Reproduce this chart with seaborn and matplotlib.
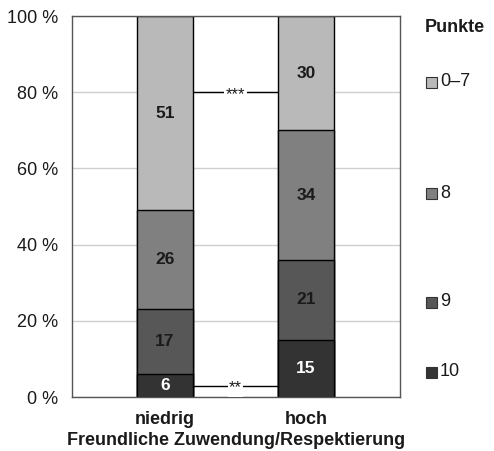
import seaborn as sns
import matplotlib.pyplot as plt
import matplotlib.patches as mpatches
import numpy as np
import pandas as pd

groups = ['niedrig', 'hoch']
punkte = ['10', '9', '8', '0–7']          # bottom to top
share_10 = [6, 15]
share_9 = [17, 21]
share_8 = [26, 34]
share_0_7 = [51, 30]
colors = ['#333333', '#575757', '#808080', '#b9b9b9']
label_colors = ['white', '#1a1a1a', '#1a1a1a', '#1a1a1a']
y_ticks = [0, 20, 40, 60, 80, 100]
sig_levels = [80, 3]
sig_marks = ['***', '**']

sns.set_theme(style='white')
plt.rcParams['font.family'] = ['Liberation Sans', 'DejaVu Sans']

layers = [share_10, share_9, share_8, share_0_7]
cum = np.cumsum(np.array(layers), axis=0)

fig = plt.figure(figsize=(4.94, 4.51), dpi=100)
ax = fig.add_axes([0.1457, 0.1197, 0.664, 0.8448])

# draw cumulative bars from the top layer down so they stack
for i in range(len(layers) - 1, -1, -1):
    df = pd.DataFrame({'gruppe': groups, 'wert': cum[i]})
    sns.barplot(data=df, x='gruppe', y='wert', color=colors[i], width=0.4,
                edgecolor='black', linewidth=1.0, saturation=1, ax=ax, zorder=2)

for i, layer in enumerate(layers):
    for j, v in enumerate(layer):
        ax.text(j, cum[i][j] - v / 2, str(v), ha='center', va='center',
                fontsize=12.5, fontweight='bold', color=label_colors[i], zorder=4)

# significance connectors
for lvl, mark in zip(sig_levels, sig_marks):
    ax.plot([0.2, 0.8], [lvl, lvl], color='black', lw=1.0, zorder=3)
    ax.text(0.5, lvl - 0.6, mark, ha='center', va='center', fontsize=12,
            color='#1a1a1a', zorder=4,
            bbox=dict(facecolor='white', edgecolor='none', pad=1.0))

ax.set_xlim(-0.66, 1.667)
ax.set_ylim(0, 100)
ax.set_yticks(y_ticks)
ax.set_yticklabels([f'{t} %' for t in y_ticks], fontsize=13, color='#1a1a1a')
ax.yaxis.grid(True, color='#cfcfcf', lw=1.0, zorder=0)
ax.set_axisbelow(True)
ax.tick_params(axis='y', length=0, pad=10)
ax.tick_params(axis='x', length=0, pad=10)
ax.set_xticks([0, 1])
ax.set_xticklabels(groups, fontsize=13, fontweight='bold', color='#1a1a1a')
ax.set_ylabel('')
ax.set_xlabel('Freundliche Zuwendung/Respektierung', fontsize=13,
              fontweight='bold', color='#1a1a1a', labelpad=3)
for s in ax.spines.values():
    s.set_color('#555555')
    s.set_linewidth(1.0)

# legend on the right
fig.text(425 / 494, 1 - 28 / 451, 'Punkte', fontsize=13, fontweight='bold',
         color='#1a1a1a', va='center', ha='left')
leg_y = [372, 302, 193, 82]
for lab, col, yy in zip(punkte, colors, leg_y):
    fy = 1 - yy / 451
    fig.patches.append(mpatches.Rectangle((426 / 494, fy - 5.5 / 451), 11 / 494, 11 / 451,
                                          transform=fig.transFigure, facecolor=col,
                                          edgecolor='#333333', lw=0.8))
    fig.text(440 / 494, fy, lab, fontsize=13, color='#1a1a1a', va='center', ha='left')

fig.savefig('out.png', dpi=100)
